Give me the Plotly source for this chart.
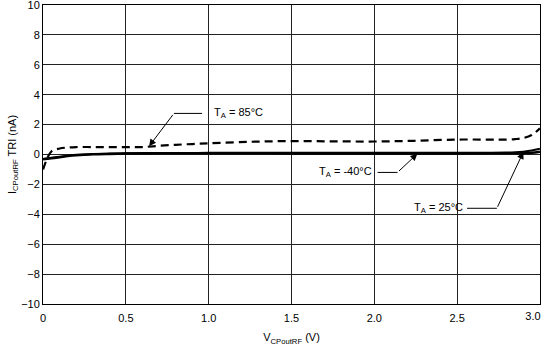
import plotly.graph_objects as go

v = [0, 0.05, 0.1, 0.15, 0.2, 0.3, 0.4, 0.5, 0.6, 0.7, 0.8, 0.9, 1.0, 1.25, 1.5, 1.75,
     2.0, 2.25, 2.5, 2.7, 2.8, 2.85, 2.9, 2.95, 3.0]
i_85 = [-1.0, 0.2, 0.4, 0.47, 0.5, 0.5, 0.5, 0.5, 0.5, 0.58, 0.65, 0.7, 0.75, 0.85, 0.9, 0.88,
        0.87, 0.92, 1.0, 1.0, 1.0, 1.03, 1.1, 1.3, 1.75]
i_m40 = [-0.32, -0.25, -0.18, -0.1, -0.05, 0.01, 0.04, 0.06, 0.07, 0.08, 0.08, 0.08, 0.08, 0.08, 0.07, 0.07,
         0.07, 0.07, 0.07, 0.08, 0.08, 0.08, 0.09, 0.11, 0.18]
i_25 = [-0.3, -0.22, -0.15, -0.08, -0.02, 0.03, 0.06, 0.08, 0.1, 0.1, 0.1, 0.1, 0.11, 0.11, 0.11, 0.11,
        0.11, 0.11, 0.12, 0.12, 0.13, 0.15, 0.19, 0.26, 0.38]

x_ticks = [0, 0.5, 1.0, 1.5, 2.0, 2.5]
x_labels = ["0", "0.5", "1.0", "1.5", "2.0", "2.5"]
x_end_tick = [3.0]
x_end_label = ["3.0"]
y_ticks = [-10, -8, -6, -4, -2, 0, 2, 4, 6, 8, 10]

FONT = "Liberation Sans, Arial, sans-serif"

fig = go.Figure()
fig.add_trace(go.Scatter(x=v, y=i_m40, mode="lines", line=dict(color="black", width=2.5, shape="spline"),
                         name="-40C", showlegend=False))
fig.add_trace(go.Scatter(x=v, y=i_25, mode="lines", line=dict(color="black", width=2, shape="spline"),
                         name="25C", showlegend=False))
fig.add_trace(go.Scatter(x=v, y=i_85, mode="lines",
                         line=dict(color="black", width=2.2, dash="8px,5px", shape="spline"),
                         name="85C", showlegend=False, xaxis="x2"))

labels = [
    # text, text x, text y, xanchor, bend x, seg end x, tip x, tip y
    ("T<sub>A</sub> = 85°C", 1.02, 2.75, "left", 0.79, 0.96, 0.64, 0.55),
    ("T<sub>A</sub> = -40°C", 2.0, -1.2, "right", 2.14, 2.02, 2.26, 0.05),
    ("T<sub>A</sub> = 25°C", 2.545, -3.6, "right", 2.74, 2.56, 2.90, 0.17),
]
for txt, tx, ty, anc, bx, sx, px, py in labels:
    fig.add_annotation(x=tx, y=ty, text=txt, showarrow=False, xanchor=anc, yanchor="middle",
                       font=dict(family=FONT, size=11, color="black"))
    fig.add_shape(type="line", x0=bx, x1=sx, y0=ty, y1=ty, line=dict(color="black", width=1))
    fig.add_annotation(x=px, y=py, ax=bx, ay=ty, axref="x", ayref="y", text="", showarrow=True,
                       arrowhead=2, arrowsize=1.4, arrowwidth=1, arrowcolor="black", standoff=0)

axis_common = dict(showgrid=True, gridcolor="#222", gridwidth=1, showline=True, linecolor="black",
                   linewidth=1, mirror=True, zeroline=False, ticks="", ticklabeloverflow="allow",
                   automargin=False, tickfont=dict(family=FONT, size=11, color="black"))
XR = [-0.0005, 3.0005]
fig.update_xaxes(range=XR, tickvals=x_ticks, ticktext=x_labels, ticklabelstandoff=4,
                 title=dict(text="V<sub>CPoutRF</sub> (V)", font=dict(family=FONT, size=11, color="black"),
                            standoff=10),
                 **axis_common)
fig.update_yaxes(range=[-10.005, 10.005], tickvals=y_ticks,
                 title=dict(text="I<sub>CPoutRF</sub> TRI (nA)", font=dict(family=FONT, size=11, color="black"),
                            standoff=2),
                 **axis_common)
fig.update_layout(
    xaxis2=dict(overlaying="x", anchor="y", side="bottom", range=XR, tickvals=x_end_tick,
                ticktext=x_end_label, ticklabelshift=-7, ticklabelstandoff=4, showgrid=False,
                showline=False, zeroline=False, ticks="", ticklabeloverflow="allow", automargin=False,
                tickfont=dict(family=FONT, size=11, color="black")),
    width=542, height=346, margin=dict(l=43, r=2, t=5, b=42),
    plot_bgcolor="white", paper_bgcolor="white",
    font=dict(family=FONT, size=11, color="black"))
fig.write_html("out.html")
